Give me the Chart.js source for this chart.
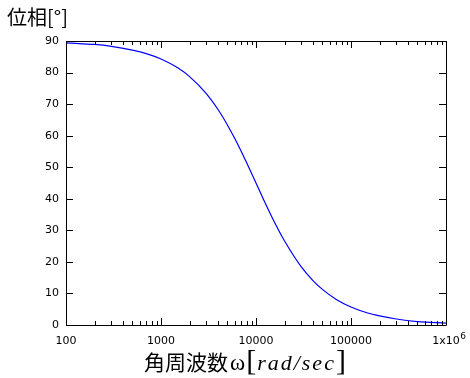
<!DOCTYPE html>
<html>
<head>
<meta charset="utf-8">
<script src="https://cdn.jsdelivr.net/npm/chart.js@4"></script>
<style>
  html, body { margin: 0; padding: 0; background: #fff; }
</style>
</head>
<body>
<canvas id="phaseChart" width="470" height="378"></canvas>
<script>
// Valores: frequencia angular (rad/s) e fase (graus)
const omega = [100, 150, 200, 300, 500, 700, 1000, 1500, 2000, 3000, 4000, 5000, 6000, 7000, 8000,
    10000, 12000, 15000, 20000, 30000, 40000, 50000, 70000, 100000, 150000, 200000, 300000, 500000, 1000000];
const phase = [89.4, 89.1, 88.9, 88.3, 87.1, 86.0, 84.3, 81.5, 78.7, 73.3, 68.2, 63.4, 59.0, 55.0, 51.3,
    45.0, 39.8, 33.7, 26.6, 18.4, 14.0, 11.3, 8.1, 5.7, 3.8, 2.9, 1.9, 1.1, 0.6];
const yTicks = [0, 10, 20, 30, 40, 50, 60, 70, 80, 90];
const xDecades = [100, 1000, 10000, 100000, 1000000];
const xLabels = ['100', '1000', '10000', '100000', '1x10'];

const points = omega.map((w, i) => ({ x: w, y: phase[i] }));

// Moldura e marcas internas (estilo gnuplot)
const framePlugin = {
    id: 'frame',
    afterDraw(chart) {
        const c = chart.ctx;
        const a = chart.chartArea;
        const xs = chart.scales.x;
        const ys = chart.scales.y;
        c.save();
        c.strokeStyle = '#000';
        c.lineWidth = 1;
        c.beginPath();
        c.rect(Math.round(a.left) + 0.5, Math.round(a.top) + 0.5,
            Math.round(a.right - a.left), Math.round(a.bottom - a.top));
        c.stroke();

        c.beginPath();
        for (let d = 0; d < xDecades.length; d++) {
            const base = xDecades[d];
            for (let m = 1; m <= 9; m++) {
                const v = base * m;
                if (v > 1000000) break;
                const px = Math.round(xs.getPixelForValue(v)) + 0.5;
                const len = m === 1 ? 7 : 4;
                c.moveTo(px, a.bottom);
                c.lineTo(px, a.bottom - len);
                c.moveTo(px, a.top);
                c.lineTo(px, a.top + len);
            }
        }
        for (const t of yTicks) {
            const py = Math.round(ys.getPixelForValue(t)) + 0.5;
            c.moveTo(a.left, py);
            c.lineTo(a.left + 7, py);
            c.moveTo(a.right, py);
            c.lineTo(a.right - 7, py);
        }
        c.stroke();

        c.fillStyle = '#000';
        c.textBaseline = 'alphabetic';
        c.textAlign = 'left';

        // expoente do ultimo rotulo (1x10^6)
        c.font = '11px "DejaVu Sans"';
        const baseW = c.measureText('1x10').width;
        const lastX = xs.getPixelForValue(1000000);
        c.font = '9px "DejaVu Sans"';
        c.fillText('6', lastX + baseW / 2 + 0.5, 339);

        // titulos
        c.font = '20px "Noto Sans CJK JP"';
        c.fillText('位相[°]', 7, 25);

        const parts = [
            { t: '角周波数', f: '21px "Noto Sans CJK JP"', gap: 2 },
            { t: 'ω', f: '23px "Liberation Serif"', gap: 1 },
            { t: '[', f: '30px "Liberation Serif"', gap: 1 },
            { t: 'rad/sec', f: 'italic 22px "Liberation Serif"', gap: 0, ls: '2px' },
            { t: ']', f: '30px "Liberation Serif"', gap: 0 }
        ];
        let x = 144;
        for (const p of parts) {
            c.font = p.f;
            c.letterSpacing = p.ls || '0px';
            c.fillText(p.t, x, 370);
            x += c.measureText(p.t).width + p.gap;
        }
        c.restore();
    }
};

const ctx = document.getElementById('phaseChart').getContext('2d');

const phaseChart = new Chart(ctx, {
    type: 'line',
    data: {
        datasets: [{
            data: points,
            borderColor: '#0000ff',
            borderWidth: 1.2,
            pointRadius: 0,
            fill: false,
            cubicInterpolationMode: 'monotone'
        }]
    },
    options: {
        responsive: false,
        animation: false,
        devicePixelRatio: 1,
        layout: { padding: { left: 0, top: 41, right: 24, bottom: 0 } },
        plugins: {
            legend: { display: false },
            tooltip: { enabled: false }
        },
        scales: {
            x: {
                type: 'logarithmic',
                min: 100,
                max: 1000000,
                grid: { display: false, drawTicks: false },
                border: { display: false },
                afterFit(scale) { scale.height = 53; },
                afterBuildTicks(scale) {
                    scale.ticks = xDecades.map(v => ({ value: v }));
                },
                ticks: {
                    autoSkip: false,
                    maxRotation: 0,
                    padding: 10,
                    color: '#000',
                    font: { family: 'DejaVu Sans', size: 11 },
                    callback(value) {
                        const i = xDecades.indexOf(value);
                        return i >= 0 ? xLabels[i] : '';
                    }
                }
            },
            y: {
                min: 0,
                max: 90,
                grid: { display: false, drawTicks: false },
                border: { display: false },
                afterFit(scale) { scale.width = 66; },
                afterBuildTicks(scale) {
                    scale.ticks = yTicks.map(v => ({ value: v }));
                },
                ticks: {
                    padding: 7,
                    color: '#000',
                    font: { family: 'DejaVu Sans', size: 11 }
                }
            }
        }
    },
    plugins: [framePlugin]
});
</script>
</body>
</html>
